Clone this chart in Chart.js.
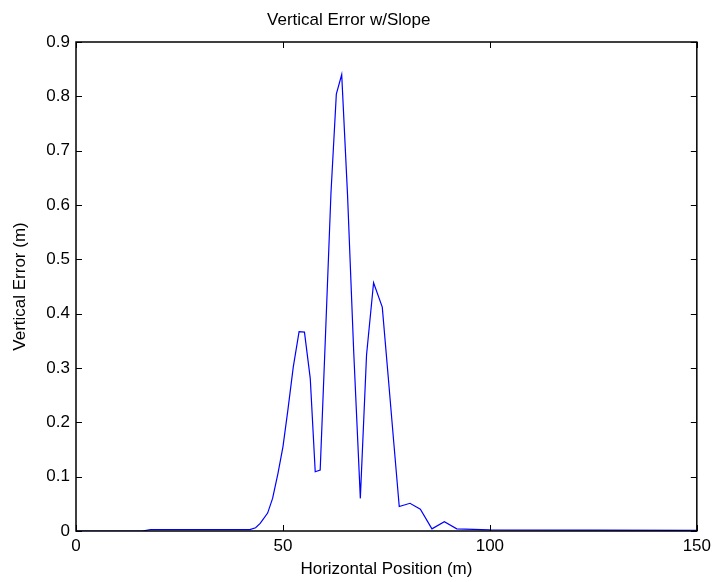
<!DOCTYPE html>
<html>
<head>
<meta charset="utf-8">
<script src="https://cdn.jsdelivr.net/npm/chart.js@4"></script>
<style>
  html, body { margin: 0; padding: 0; background: #ffffff; }
  #wrap { width: 716px; height: 582px; position: relative; }
</style>
</head>
<body>
<div id="wrap"><canvas id="c" width="716" height="582"></canvas></div>
<script>
// ---- Data ----
const horizontalPosition = [0, 16, 18, 42, 43.4, 44.5, 46.3, 47.5, 48.8, 50.0, 51.2, 52.5, 53.9, 55.2, 56.6, 57.8, 59.0, 60.3, 61.6, 62.9, 64.2, 65.6, 67.1, 68.7, 70.2, 71.9, 74.0, 75.4, 76.8, 78.1, 80.7, 83.2, 86.0, 89.0, 92.0, 100, 150];
const verticalError = [0, 0, 0.0025, 0.0025, 0.006, 0.014, 0.033, 0.060, 0.106, 0.155, 0.223, 0.302, 0.367, 0.366, 0.281, 0.109, 0.112, 0.364, 0.621, 0.804, 0.840, 0.62, 0.33, 0.060, 0.324, 0.457, 0.412, 0.287, 0.161, 0.045, 0.051, 0.040, 0.004, 0.017, 0.004, 0.002, 0.001];
const xTicks = [0, 50, 100, 150];
const yTicks = [0, 0.1, 0.2, 0.3, 0.4, 0.5, 0.6, 0.7, 0.8, 0.9];
const titleText = 'Vertical Error w/Slope';
const xTitle = 'Horizontal Position (m)';
const yTitle = 'Vertical Error (m)';

const points = horizontalPosition.map((x, i) => ({ x: x, y: verticalError[i] }));
const FONT = 'Liberation Sans, Arial, Helvetica, sans-serif';
const FS = 17;

// Frame + inward ticks (MATLAB style)
const framePlugin = {
  id: 'frame',
  afterDatasetsDraw(chart) {
    const { ctx, chartArea: a, scales } = chart;
    const L = 6;
    ctx.save();
    ctx.strokeStyle = '#000000';
    ctx.lineWidth = 1;
    ctx.beginPath();
    xTicks.forEach(v => {
      const px = Math.round(scales.x.getPixelForValue(v)) + 0.5;
      ctx.moveTo(px, a.bottom); ctx.lineTo(px, a.bottom - L);
      ctx.moveTo(px, a.top); ctx.lineTo(px, a.top + L);
    });
    yTicks.forEach(v => {
      const py = Math.round(scales.y.getPixelForValue(v)) + 0.5;
      ctx.moveTo(a.left, py); ctx.lineTo(a.left + L, py);
      ctx.moveTo(a.right, py); ctx.lineTo(a.right - L, py);
    });
    ctx.stroke();
    ctx.lineWidth = 1.5;
    ctx.strokeRect(a.left, a.top, a.right - a.left, a.bottom - a.top);
    ctx.restore();
  }
};

new Chart(document.getElementById('c'), {
  type: 'scatter',
  data: {
    datasets: [{
      data: points,
      showLine: true,
      borderColor: '#0000ff',
      borderWidth: 1.2,
      pointRadius: 0,
      fill: false,
      tension: 0
    }]
  },
  options: {
    responsive: false,
    animation: false,
    devicePixelRatio: 1,
    layout: { padding: { left: 0, right: 18.5, top: 0, bottom: 0 } },
    plugins: {
      legend: { display: false },
      tooltip: { enabled: false },
      title: {
        display: true,
        text: titleText,
        color: '#000000',
        font: { family: FONT, size: FS, weight: 'normal', lineHeight: 1.2 },
        padding: { top: 9.8, bottom: 11.8 }
      }
    },
    scales: {
      x: {
        type: 'linear',
        min: 0, max: 150,
        afterBuildTicks: (s) => { s.ticks = xTicks.map(v => ({ value: v })); },
        afterFit: (s) => { s.height = 51; },
        grid: { display: false, drawTicks: false },
        border: { display: false },
        ticks: {
          color: '#000000', padding: 5, maxRotation: 0,
          font: { family: FONT, size: FS, lineHeight: 1.2 },
          callback: (v) => String(v)
        },
        title: {
          display: true, text: xTitle, color: '#000000',
          font: { family: FONT, size: FS, lineHeight: 1.2 },
          padding: { top: 0, bottom: 2.8 }
        }
      },
      y: {
        type: 'linear',
        min: 0, max: 0.9,
        afterBuildTicks: (s) => { s.ticks = yTicks.map(v => ({ value: v })); },
        afterFit: (s) => { s.width = 76; },
        grid: { display: false, drawTicks: false },
        border: { display: false },
        ticks: {
          color: '#000000', padding: 6,
          font: { family: FONT, size: FS, lineHeight: 1.2 },
          callback: (v) => (Math.round(v * 10) / 10).toString()
        },
        title: {
          display: true, text: yTitle, color: '#000000',
          font: { family: FONT, size: FS, lineHeight: 1.2 },
          padding: { top: 10, bottom: 0 }
        }
      }
    }
  },
  plugins: [framePlugin]
});
</script>
</body>
</html>
